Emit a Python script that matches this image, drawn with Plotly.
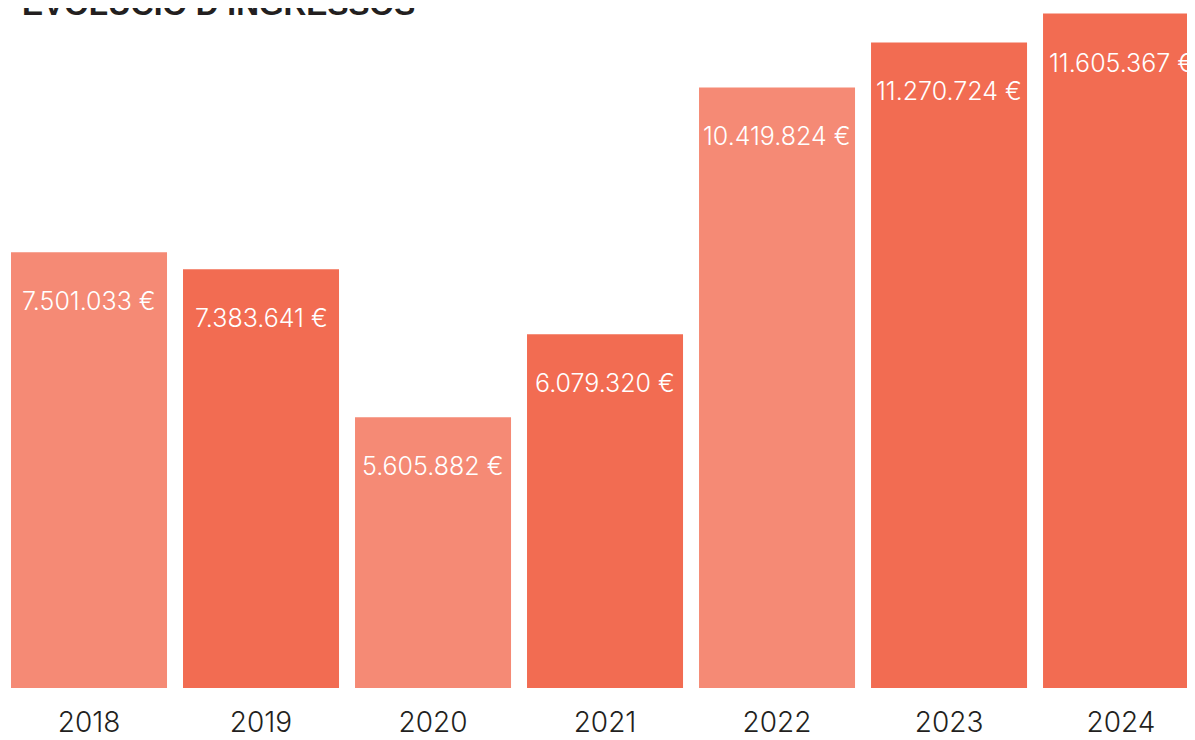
import plotly.graph_objects as go

anys = ["2018", "2019", "2020", "2021", "2022", "2023", "2024"]
ingressos = [7501033, 7383641, 5605882, 6079320, 10419824, 11270724, 11605367]
# bar heights as drawn in the reference (in €)
alcada_dibuixada = [7497000, 7204000, 4660000, 6087000, 10334000, 11108000, 11605367]
colors = ["#F58A75", "#F26C52", "#F58A75", "#F26C52", "#F58A75", "#F26C52", "#F26C52"]
titol = "EVOLUCIÓ D’INGRESSOS"


def fmt(v):
    return f"{v:,}".replace(",", ".") + " €"


fig = go.Figure()
fig.add_trace(go.Bar(
    x=anys, y=alcada_dibuixada, marker=dict(color=colors, line=dict(width=0)),
    width=0.907, hoverinfo="skip",
))

for i, (h, v) in enumerate(zip(alcada_dibuixada, ingressos)):
    fig.add_annotation(
        x=i, y=h, xref="x", yref="y", text=fmt(v), showarrow=False,
        yanchor="middle", yshift=-49,
        font=dict(family="Inter", size=25, color="white", weight=300),
    )

fig.add_annotation(
    x=0, y=1, xref="paper", yref="paper", text=f"<b>{titol}</b>", showarrow=False,
    xanchor="left", yanchor="top", xshift=12, yshift=24,
    font=dict(family="Liberation Sans", size=31.6, color="#231F20"),
)

fig.update_layout(
    width=1187, height=732,
    margin=dict(l=0, r=0, t=0, b=52, autoexpand=False),
    paper_bgcolor="white", plot_bgcolor="white",
    showlegend=False,
    xaxis=dict(
        type="category", range=[-0.471, 6.43], showgrid=False, zeroline=False,
        showline=False, ticks="", ticklabelstandoff=15, automargin=False,
        tickfont=dict(family="Inter", size=28, color="#231F20", weight=300),
    ),
    yaxis=dict(range=[0, 11700000], visible=False, showgrid=False, zeroline=False,
               automargin=False),
)

fig.write_html("out.html")
